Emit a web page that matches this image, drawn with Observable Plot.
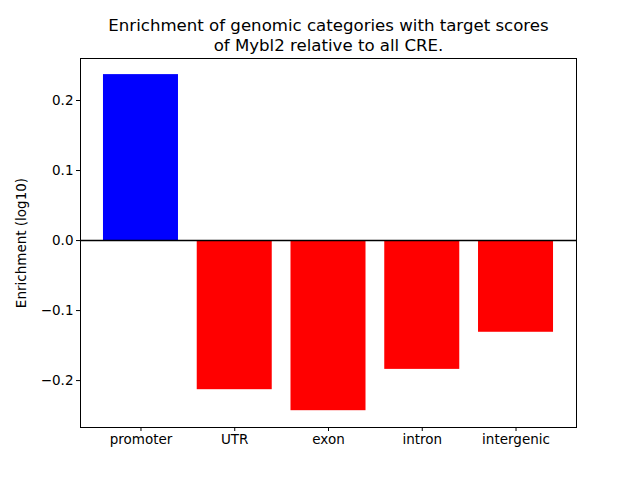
<!DOCTYPE html>
<html><head><meta charset="utf-8">
<script src="https://cdn.jsdelivr.net/npm/d3@7"></script>
<script src="https://cdn.jsdelivr.net/npm/@observablehq/plot@0.6"></script>
<style>body{margin:0;background:#fff;} svg{font-family:"DejaVu Sans",sans-serif;}</style>
</head><body>
<div id="chart"></div>
<script>
const categories = ["promoter", "UTR", "exon", "intron", "intergenic"];
const values = [0.237, -0.213, -0.243, -0.184, -0.131];
const barColors = ["#0000ff", "#ff0000", "#ff0000", "#ff0000", "#ff0000"];
const yTicks = [-0.2, -0.1, 0.0, 0.1, 0.2];
const titleText = "Enrichment of genomic categories with target scores\nof Mybl2 relative to all CRE.";
const yLabel = "Enrichment (log10)";

const data = categories.map((c, i) => ({cat: c, value: values[i], color: barColors[i]}));

const chart = Plot.plot({
  width: 640, height: 480,
  marginLeft: 80, marginRight: 64, marginTop: 58, marginBottom: 53,
  style: {fontFamily: "DejaVu Sans", fontSize: "13.5px", background: "#fff", color: "#000"},
  x: {domain: categories, paddingInner: 0.2, paddingOuter: 0.245, round: false, label: null},
  y: {domain: [-0.267, 0.26], label: null},
  color: {type: "identity"},
  marks: [
    Plot.barY(data, {x: "cat", y: "value", fill: "color"}),
    Plot.ruleY([0], {stroke: "#000", strokeWidth: 1.5}),
    Plot.frame({stroke: "#000"}),
    Plot.axisX({tickSize: 4, tickPadding: 3, fontSize: 13.5, label: null}),
    Plot.axisY({ticks: yTicks, tickFormat: d3.format(".1f"), tickSize: 4, tickPadding: 3, fontSize: 13.5,
      label: yLabel, labelAnchor: "center", labelArrow: "none", labelOffset: 64}),
    Plot.text([titleText], {frameAnchor: "top", lineAnchor: "bottom", dy: -8, fontSize: 16.6, lineHeight: 1.17, fill: "#000"})
  ]
});
document.getElementById("chart").appendChild(chart);
</script>
</body></html>
